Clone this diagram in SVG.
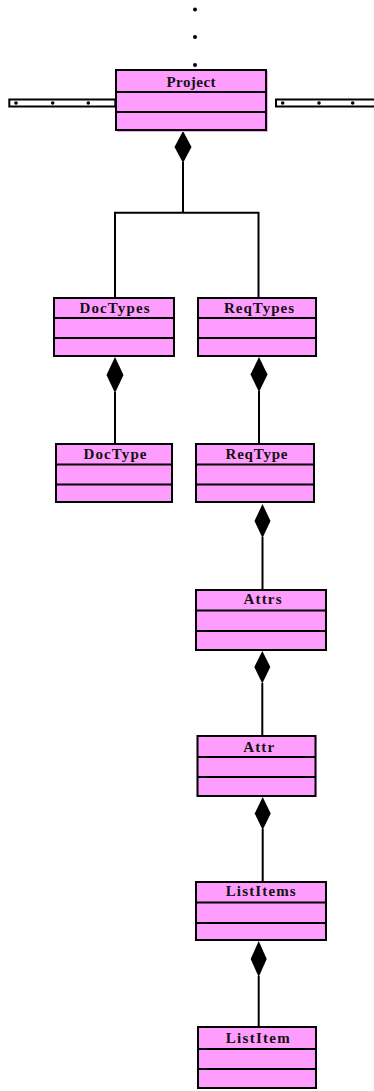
<svg xmlns="http://www.w3.org/2000/svg" width="374" height="1091" viewBox="0 0 374 1091">
<style>
.shadow{fill:#ff9dff;stroke:none}
.box{fill:#ff9dff;stroke:#000;stroke-width:2}
.div{stroke:#000;stroke-width:2}
.lbl{font-family:"Liberation Serif","Times New Roman",serif;font-weight:bold;font-size:15px;text-anchor:middle;fill:#111}
.ln{stroke:#000;stroke-width:2;fill:none}
.dia{fill:#000;stroke:none}
.dot{fill:#000}
.bar{fill:#fff;stroke:#000;stroke-width:2}
</style>
<g id="ellipsis-top">
<circle class="dot" cx="195" cy="9.5" r="2"/>
<circle class="dot" cx="195" cy="37" r="2"/>
<circle class="dot" cx="195" cy="65" r="2"/>
</g>
<g id="bar-left">
<rect class="bar" x="9.3" y="99.5" width="106" height="7"/>
<circle class="dot" cx="16" cy="103" r="1.8"/>
<circle class="dot" cx="52.7" cy="103" r="1.8"/>
<circle class="dot" cx="88.3" cy="103" r="1.8"/>
</g>
<g id="bar-right">
<rect class="bar" x="276" y="99.5" width="110" height="7"/>
<circle class="dot" cx="282.7" cy="103" r="1.8"/>
<circle class="dot" cx="319" cy="103" r="1.8"/>
<circle class="dot" cx="352.7" cy="103" r="1.8"/>
</g>
<g id="connectors">
<path class="dia" d="M183,131 L191.5,147 L183,163 L174.5,147 Z"/>
<path class="ln" d="M183,162 V212.7 M114,212.7 H259.5 M115,212 V297 M258.5,212 V297"/>
<path class="dia" d="M115,357 L123.5,375 L115,393 L106.5,375 Z"/>
<path class="ln" d="M115,392 V443"/>
<path class="dia" d="M259,357 L267.5,374.5 L259,392 L250.5,374.5 Z"/>
<path class="ln" d="M259,391 V443"/>
<path class="dia" d="M262.5,504 L270.5,521 L262.5,538 L254.5,521 Z"/>
<path class="ln" d="M262.5,537 V589"/>
<path class="dia" d="M262.3,651 L270.3,667 L262.3,683.5 L254.3,667 Z"/>
<path class="ln" d="M262.3,683 V735"/>
<path class="dia" d="M262.7,797 L270.7,813.5 L262.7,830 L254.7,813.5 Z"/>
<path class="ln" d="M262.7,829 V881"/>
<path class="dia" d="M258.7,941 L266.7,959 L258.7,977 L250.7,959 Z"/>
<path class="ln" d="M258.7,976 V1026"/>
</g>
<g id="Project">
<rect class="shadow" x="117" y="71" width="151" height="61"/>
<rect class="box" x="116" y="70" width="150" height="60"/>
<line class="div" x1="116" y1="92" x2="266" y2="92"/>
<line class="div" x1="116" y1="112" x2="266" y2="112"/>
<text class="lbl" x="191" y="87" textLength="49" lengthAdjust="spacing">Project</text>
</g>
<g id="DocTypes">
<rect class="shadow" x="55" y="299" width="120" height="58"/>
<rect class="box" x="54" y="298" width="120" height="58"/>
<line class="div" x1="54" y1="318" x2="174" y2="318"/>
<line class="div" x1="54" y1="338" x2="174" y2="338"/>
<text class="lbl" x="114.5" y="313" textLength="70" lengthAdjust="spacing">DocTypes</text>
</g>
<g id="ReqTypes">
<rect class="shadow" x="199" y="299" width="118" height="58"/>
<rect class="box" x="198" y="298" width="118" height="58"/>
<line class="div" x1="198" y1="318" x2="316" y2="318"/>
<line class="div" x1="198" y1="338" x2="316" y2="338"/>
<text class="lbl" x="259" y="313" textLength="70" lengthAdjust="spacing">ReqTypes</text>
</g>
<g id="DocType">
<rect class="shadow" x="57" y="445" width="116" height="58"/>
<rect class="box" x="56" y="444" width="116" height="58"/>
<line class="div" x1="56" y1="464.5" x2="172" y2="464.5"/>
<line class="div" x1="56" y1="484.5" x2="172" y2="484.5"/>
<text class="lbl" x="115" y="459" textLength="63" lengthAdjust="spacing">DocType</text>
</g>
<g id="ReqType">
<rect class="shadow" x="197" y="445" width="118" height="58"/>
<rect class="box" x="196" y="444" width="118" height="58"/>
<line class="div" x1="196" y1="464.5" x2="314" y2="464.5"/>
<line class="div" x1="196" y1="484.5" x2="314" y2="484.5"/>
<text class="lbl" x="256.5" y="459" textLength="62" lengthAdjust="spacing">ReqType</text>
</g>
<g id="Attrs">
<rect class="shadow" x="197" y="591" width="130" height="60"/>
<rect class="box" x="196" y="590" width="130" height="60"/>
<line class="div" x1="196" y1="610.5" x2="326" y2="610.5"/>
<line class="div" x1="196" y1="631" x2="326" y2="631"/>
<text class="lbl" x="262.5" y="604" textLength="38" lengthAdjust="spacing">Attrs</text>
</g>
<g id="Attr">
<rect class="shadow" x="198.5" y="737" width="118" height="60"/>
<rect class="box" x="197.5" y="736" width="118" height="60"/>
<line class="div" x1="197.5" y1="757" x2="315.5" y2="757"/>
<line class="div" x1="197.5" y1="777" x2="315.5" y2="777"/>
<text class="lbl" x="258.7" y="751.5" textLength="31" lengthAdjust="spacing">Attr</text>
</g>
<g id="ListItems">
<rect class="shadow" x="197" y="883" width="130" height="58"/>
<rect class="box" x="196" y="882" width="130" height="58"/>
<line class="div" x1="196" y1="902.5" x2="326" y2="902.5"/>
<line class="div" x1="196" y1="923" x2="326" y2="923"/>
<text class="lbl" x="260.7" y="896" textLength="70" lengthAdjust="spacing">ListItems</text>
</g>
<g id="ListItem">
<rect class="shadow" x="199" y="1028" width="118" height="61"/>
<rect class="box" x="198" y="1027" width="118" height="61"/>
<line class="div" x1="198" y1="1049" x2="316" y2="1049"/>
<line class="div" x1="198" y1="1069" x2="316" y2="1069"/>
<text class="lbl" x="257.8" y="1042.5" textLength="64" lengthAdjust="spacing">ListItem</text>
</g>
</svg>
